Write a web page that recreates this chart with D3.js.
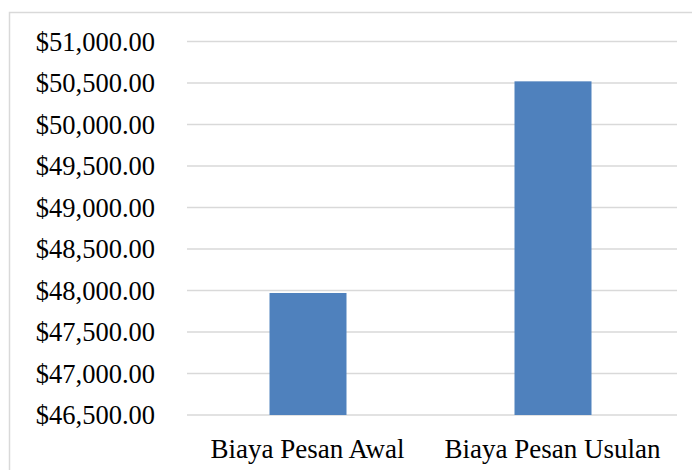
<!DOCTYPE html>
<html>
<head>
<meta charset="utf-8">
<script src="https://cdn.jsdelivr.net/npm/d3@7"></script>
<style>
  body { margin: 0; background: #fff; }
  text { font-family: "Liberation Serif", "Times New Roman", serif; }
</style>
</head>
<body>
<svg></svg>
<script>
// data
var categories = ["Biaya Pesan Awal", "Biaya Pesan Usulan"];
var values = [47970, 50520];
var yTicks = [46500, 47000, 47500, 48000, 48500, 49000, 49500, 50000, 50500, 51000];

var width = 692, height = 470;
var svg = d3.select("svg").attr("width", width).attr("height", height);

// chart border
svg.append("rect")
  .attr("x", 9.5).attr("y", 12.5)
  .attr("width", 690).attr("height", 470)
  .attr("fill", "#fff")
  .attr("stroke", "#d9d9d9")
  .attr("stroke-width", 1.5);

var x = d3.scaleBand().domain(categories).range([187, 677]);
var y = d3.scaleLinear().domain([46500, 51000]).range([415, 41.5]);

// gridlines
svg.append("g")
  .selectAll("line")
  .data(yTicks)
  .enter().append("line")
  .attr("x1", 187).attr("x2", 677)
  .attr("y1", function (d) { return y(d); })
  .attr("y2", function (d) { return y(d); })
  .attr("stroke", "#d9d9d9")
  .attr("stroke-width", 1.5);

// y labels
var fmt = d3.format("$,.2f");
svg.append("g")
  .selectAll("text")
  .data(yTicks)
  .enter().append("text")
  .attr("x", 155)
  .attr("y", function (d) { return y(d); })
  .attr("dy", "0.34em")
  .attr("text-anchor", "end")
  .attr("font-size", 26.5)
  .attr("fill", "#000")
  .text(function (d) { return fmt(d); });

// bars
var barW = 77;
svg.append("g")
  .selectAll("rect")
  .data(values)
  .enter().append("rect")
  .attr("x", function (d, i) { return x(categories[i]) + x.bandwidth() / 2 - barW / 2 - 1.5; })
  .attr("y", function (d) { return y(d); })
  .attr("width", barW)
  .attr("height", function (d) { return y(46500) - y(d); })
  .attr("fill", "#4f81bd");

// x labels
svg.append("g")
  .selectAll("text")
  .data(categories)
  .enter().append("text")
  .attr("x", function (d) { return x(d) + x.bandwidth() / 2 - 2; })
  .attr("y", 458)
  .attr("text-anchor", "middle")
  .attr("font-size", 27)
  .attr("fill", "#000")
  .text(function (d) { return d; });
</script>
</body>
</html>
